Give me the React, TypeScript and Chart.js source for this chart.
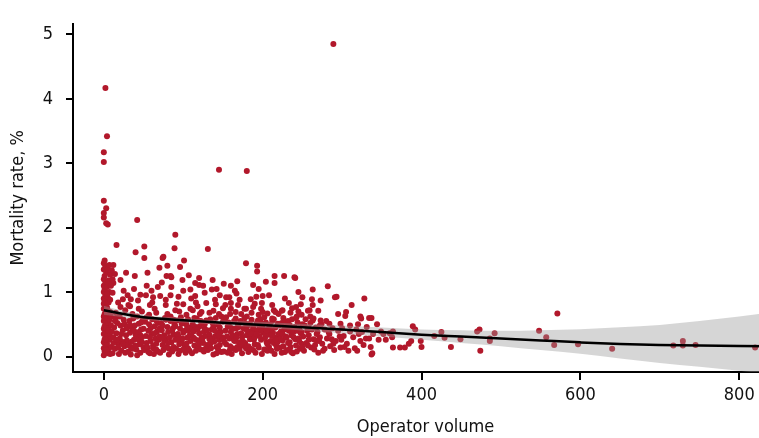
import React, { useEffect, useRef } from "react";
import { Chart, registerables } from "chart.js";

Chart.register(...registerables);

// Operator volume vs mortality rate (%)
const STRIPE_POINTS: [number, number][] = [
  [0,0.02],[1,0.08],[0,0.13],[2,0.18],[0,0.22],[1,0.27],[3,0.31],[0,0.35],[2,0.39],[0,0.43],[1,0.47],[3,0.51],[0,0.55],[2,0.58],[0,0.62],[1,0.66],[3,0.70],[0,0.74],[2,0.78],[0,0.82],[1,0.86],[0,0.90],[2,0.95],[0,1.00],[1,1.05],[0,1.10],[2,1.15],[0,1.20],[1,1.25],[3,1.30],[0,1.35],[2,1.40],[0,1.45],[1,1.49],
  [5,0.05],[6,0.12],[4,0.20],[7,0.26],[5,0.33],[8,0.38],[4,0.45],[6,0.52],[7,0.57],[5,0.63],[8,0.69],[4,0.76],[6,0.84],[5,0.92],[7,1.00],[4,1.08],[6,1.18],[8,1.27],[5,1.36],[7,1.42],[6,1.12],[4,0.97],[9,0.30],[9,0.48],[9,0.15],[3,0.10],[8,0.04],[2,0.26],[3,0.44],[7,0.36],[1,0.60],[5,0.72],[8,0.88],[6,0.41],[2,0.66],[9,0.62],
  [12,1.42],[14,1.28],[11,1.20],[10,1.34],[12,1.14],[9,1.10],[11,0.99],[16,1.73],
];

const OUTLIER_POINTS: [number, number][] = [
  [2,4.17],[4,3.42],[0,3.17],[0,3.02],[0,2.42],[3,2.30],[0,2.23],[0,2.16],[3,2.07],[5,2.05],
  [42,2.12],[145,2.90],[180,2.88],[289,4.85],
];

const CLOUD_POINTS: [number, number][] = [
  [11,0.05],[14,0.12],[18,0.20],[22,0.09],[26,0.16],[29,0.25],[12,0.30],[16,0.36],[20,0.28],[24,0.41],[28,0.33],[13,0.45],[17,0.52],[21,0.48],[25,0.57],[29,0.44],[15,0.60],[19,0.04],[23,0.23],[27,0.06],[10,0.39],[14,0.55],[18,0.14],[22,0.35],[26,0.50],[30,0.18],[12,0.21],[20,0.62],
  [31,0.08],[34,0.15],[38,0.26],[42,0.02],[45,0.19],[48,0.30],[33,0.37],[36,0.44],[40,0.34],[44,0.51],[47,0.42],[32,0.55],[37,0.59],[41,0.11],[46,0.06],[49,0.58],[35,0.23],[39,0.48],[43,0.27],[50,0.14],[30,0.46],[34,0.03],[38,0.40],[42,0.62],[46,0.33],[48,0.22],[36,0.12],[44,0.38],
  [51,0.10],[54,0.21],[58,0.05],[62,0.17],[65,0.28],[68,0.08],[53,0.32],[56,0.40],[60,0.35],[64,0.47],[67,0.39],[52,0.54],[57,0.50],[61,0.58],[66,0.56],[69,0.26],[55,0.14],[59,0.24],[63,0.04],[70,0.43],[50,0.43],[54,0.61],[58,0.30],[62,0.13],[66,0.20],[68,0.52],[56,0.07],[64,0.36],
  [71,0.06],[74,0.18],[78,0.27],[82,0.12],[85,0.22],[88,0.34],[73,0.41],[76,0.33],[80,0.46],[84,0.55],[87,0.44],[72,0.52],[77,0.60],[81,0.38],[86,0.08],[89,0.50],[75,0.10],[79,0.15],[83,0.30],[90,0.26],[70,0.31],[74,0.48],[78,0.57],[82,0.03],[86,0.40],[88,0.15],[76,0.24],[84,0.62],
  [91,0.12],[94,0.04],[98,0.22],[102,0.16],[105,0.29],[108,0.09],[93,0.35],[96,0.43],[100,0.37],[104,0.50],[107,0.41],[92,0.56],[97,0.61],[101,0.54],[106,0.58],[109,0.24],[95,0.19],[99,0.28],[103,0.06],[110,0.45],[90,0.47],[94,0.31],[98,0.51],[102,0.40],[106,0.13],[108,0.33],[96,0.09],[104,0.20],
  [111,0.05],[114,0.17],[118,0.25],[122,0.11],[125,0.21],[128,0.32],[113,0.39],[116,0.46],[120,0.36],[124,0.53],[127,0.43],[112,0.50],[117,0.59],[121,0.47],[126,0.08],[129,0.56],[115,0.27],[119,0.14],[123,0.30],[130,0.18],[110,0.33],[114,0.60],[118,0.42],[122,0.55],[126,0.38],[128,0.12],[116,0.09],[124,0.26],
  [131,0.10],[134,0.20],[138,0.03],[142,0.15],[145,0.26],[148,0.07],[133,0.34],[136,0.42],[140,0.31],[144,0.49],[147,0.38],[132,0.55],[137,0.52],[141,0.60],[146,0.45],[149,0.30],[135,0.13],[139,0.23],[143,0.36],[150,0.54],[130,0.41],[134,0.58],[138,0.47],[142,0.05],[146,0.18],[148,0.62],[136,0.28],[144,0.11],
  [151,0.08],[154,0.19],[158,0.28],[162,0.13],[165,0.24],[168,0.35],[153,0.40],[156,0.47],[160,0.38],[164,0.55],[167,0.44],[152,0.58],[157,0.53],[161,0.04],[166,0.10],[169,0.50],[155,0.31],[159,0.16],[163,0.43],[170,0.22],[150,0.27],[154,0.61],[158,0.09],[162,0.33],[166,0.59],[168,0.15],[156,0.06],[164,0.25],
  [171,0.12],[174,0.05],[178,0.21],[182,0.16],[185,0.30],[188,0.10],[173,0.36],[176,0.44],[180,0.33],[184,0.51],[187,0.40],[172,0.55],[177,0.60],[181,0.48],[186,0.57],[189,0.26],[175,0.24],[179,0.13],[183,0.39],[190,0.19],[170,0.46],[174,0.30],[178,0.52],[182,0.07],[186,0.35],[188,0.45],[176,0.17],[184,0.27],
  [191,0.06],[194,0.18],[198,0.26],[202,0.11],[205,0.22],[208,0.34],[193,0.41],[196,0.32],[200,0.45],[204,0.53],[207,0.43],[192,0.51],[197,0.58],[201,0.37],[206,0.09],[209,0.49],[195,0.14],[199,0.04],[203,0.29],[210,0.24],[190,0.30],[194,0.56],[198,0.40],[202,0.61],[206,0.19],[208,0.15],[196,0.47],[204,0.35],
  [211,0.09],[214,0.21],[218,0.30],[222,0.14],[225,0.25],[228,0.07],[213,0.37],[216,0.45],[220,0.35],[224,0.52],[227,0.42],[212,0.55],[217,0.17],[221,0.48],[226,0.60],[229,0.31],[215,0.04],[219,0.23],[223,0.39],[230,0.47],[210,0.42],[214,0.58],[218,0.12],[222,0.28],[226,0.16],[228,0.54],[216,0.27],[224,0.06],
  [231,0.10],[234,0.22],[238,0.05],[242,0.17],[245,0.28],[248,0.36],[233,0.40],[236,0.33],[240,0.46],[244,0.53],[247,0.12],[232,0.55],[237,0.58],[241,0.27],[246,0.44],[249,0.20],[235,0.15],[239,0.38],[243,0.08],[250,0.50],[230,0.29],[234,0.49],[238,0.42],[242,0.60],[246,0.24],[236,0.07],
  [252,0.09],[255,0.21],[258,0.33],[261,0.14],[264,0.27],[267,0.45],[270,0.06],[253,0.48],[256,0.40],[260,0.52],[266,0.18],[269,0.38],[272,0.30],[275,0.20],[278,0.42],[281,0.28],[276,0.09],[285,0.16],[288,0.44],[292,0.24],[295,0.40],[254,0.58],[263,0.56],[280,0.55],[290,0.10],[300,0.44],[306,0.20],[314,0.30],[318,0.42],[327,0.18],[331,0.46],
  [16,0.26],[24,0.19],[33,0.49],[40,0.17],[47,0.53],[59,0.44],[66,0.11],[73,0.29],[81,0.21],[88,0.57],[93,0.26],[100,0.11],[105,0.46],[113,0.29],[120,0.20],[127,0.50],[133,0.27],[140,0.40],[145,0.33],[152,0.22],[159,0.46],[167,0.30],[173,0.19],[180,0.41],[185,0.12],[192,0.35],[199,0.51],[205,0.41],[212,0.32],[219,0.51],[225,0.35],[232,0.21],[239,0.30],[244,0.40],[251,0.31],[257,0.17],[262,0.42],[268,0.25],[274,0.50],[283,0.38],[287,0.27],[297,0.31],[303,0.15],[310,0.48],[316,0.13],[325,0.38],[330,0.28],
];

const UPPER_POINTS: [number, number][] = [
  [40,1.62],[51,1.71],[51,1.53],[74,1.53],[39,1.25],[54,1.10],[68,1.08],[53,0.95],[25,1.02],[30,0.95],[24,0.89],[34,0.89],[43,0.87],[61,0.84],[71,0.94],[64,0.74],[44,0.74],[31,0.80],[21,0.77],
  [90,1.89],[89,1.68],[96,1.39],[101,1.49],[80,1.41],[85,1.23],[131,1.67],[137,1.19],[107,1.26],[99,1.19],[179,1.45],
  [84,1.25],[115,1.14],[120,1.11],[125,1.10],[151,1.13],[160,1.10],[85,1.08],[109,1.04],[136,1.04],[84,0.95],[94,0.93],[115,0.94],[127,0.99],[146,0.95],[154,0.92],
  [100,0.81],[116,0.84],[129,0.83],[141,0.81],[153,0.80],[78,0.80],[90,0.72],[109,0.74],[123,0.69],[138,0.71],[159,0.66],[75,1.55],[79,1.25],
  [193,1.41],[193,1.32],[168,1.17],[188,1.11],[204,1.16],[215,1.14],[227,1.25],[240,1.23],[167,0.98],[185,0.89],[192,0.93],[200,0.94],[208,0.95],[199,0.83],[169,0.80],[179,0.74],[188,0.77],[200,0.69],[214,0.72],[225,0.72],[233,0.83],[242,0.77],[160,0.83],[160,0.74],
  [241,1.22],[248,0.81],[262,0.89],[259,0.72],[270,0.71],[216,0.69],[224,0.71],[237,0.75],[198,0.74],[177,0.74],[180,0.62],[212,0.59],[243,0.62],
  [15,0.68],[27,0.72],[36,0.66],[48,0.70],[57,0.65],[66,0.68],[80,0.66],[95,0.70],[104,0.65],[112,0.72],[121,0.66],[133,0.68],[145,0.66],[150,0.75],[166,0.69],[173,0.66],[186,0.68],[195,0.65],[206,0.67],[220,0.66],[235,0.68],[245,0.70],
  [18,0.84],[33,0.78],[58,0.80],[62,0.92],[46,0.96],[78,0.88],[92,0.82],[110,0.90],[118,0.78],[140,0.88],[158,0.92],[171,0.88],[190,0.82],[212,0.80],[228,0.90],[250,0.92],
  [38,1.05],[60,1.02],[73,1.15],[100,1.02],[142,1.05],[165,1.02],[245,1.00],[195,1.05],[120,1.22],[21,1.19],[28,1.30],[55,1.30],[70,1.38],[215,1.25],
];

const TAIL_POINTS: [number, number][] = [
  [263,1.04],[282,1.09],[293,0.93],[328,0.90],[273,0.87],[312,0.80],[263,0.80],[257,0.71],[249,0.65],[295,0.66],[305,0.69],[304,0.63],[323,0.62],[334,0.60],[260,0.62],[264,0.59],[273,0.56],[284,0.51],[298,0.51],[320,0.50],[344,0.50],[258,0.44],[272,0.48],[249,0.38],[268,0.35],[284,0.35],[302,0.32],[310,0.39],[321,0.35],[339,0.35],[352,0.35],[360,0.36],
  [258,0.26],[271,0.24],[278,0.12],[289,0.20],[299,0.26],[323,0.24],[334,0.28],[346,0.26],[250,0.15],[265,0.11],[298,0.14],[308,0.09],[319,0.09],[336,0.15],[338,0.05],[355,0.26],[363,0.30],[291,0.92],[324,0.59],[337,0.60],
  [349,0.39],[364,0.39],[373,0.14],[379,0.14],[384,0.20],[389,0.47],[392,0.42],[399,0.24],[400,0.15],[387,0.24],[416,0.32],[425,0.38],[429,0.29],[437,0.15],[449,0.27],[470,0.39],[473,0.42],[474,0.09],[486,0.28],[492,0.36],[337,0.03],[364,0.14],
  [486,0.24],[548,0.40],[557,0.30],[567,0.18],[571,0.67],[597,0.19],[640,0.12],[717,0.17],[729,0.24],[729,0.17],[745,0.18],[820,0.14],
];

// Fitted curve and its confidence band
const FIT_X = [0, 25, 50, 100, 150, 200, 250, 300, 350, 400, 450, 500, 550, 600, 650, 700, 750, 800, 850];
const FIT_Y = [0.72, 0.66, 0.61, 0.565, 0.525, 0.49, 0.455, 0.42, 0.38, 0.34, 0.31, 0.28, 0.25, 0.22, 0.195, 0.18, 0.17, 0.163, 0.158];
const BAND_UPPER = [0.79, 0.71, 0.65, 0.60, 0.56, 0.535, 0.505, 0.48, 0.45, 0.42, 0.41, 0.40, 0.41, 0.425, 0.455, 0.49, 0.55, 0.62, 0.70];
const BAND_LOWER = [0.65, 0.61, 0.57, 0.53, 0.49, 0.445, 0.405, 0.36, 0.31, 0.26, 0.21, 0.16, 0.10, 0.045, -0.03, -0.10, -0.16, -0.22, -0.29];

const X_TICKS = [0, 200, 400, 600, 800];
const Y_TICKS = [0, 1, 2, 3, 4, 5];

const FONT_FAMILY = "'Liberation Sans Narrow', 'DejaVu Sans Condensed', 'Liberation Sans', sans-serif";

export default function App() {
  const canvasRef = useRef<HTMLCanvasElement | null>(null);

  useEffect(() => {
    const canvas = canvasRef.current;
    if (!canvas) return;
    const pts = [...STRIPE_POINTS, ...CLOUD_POINTS, ...UPPER_POINTS, ...TAIL_POINTS, ...OUTLIER_POINTS].map(
      ([x, y]) => ({ x, y })
    );
    const toXY = (ys: number[]) => FIT_X.map((x, i) => ({ x, y: ys[i] }));

    const chart = new Chart(canvas, {
      type: "scatter",
      data: {
        datasets: [
          {
            type: "line",
            data: toXY(FIT_Y),
            borderColor: "#000000",
            borderWidth: 2.5,
            pointRadius: 0,
            fill: false,
            cubicInterpolationMode: "monotone",
            order: 0,
          } as any,
          {
            type: "line",
            data: toXY(BAND_UPPER),
            borderWidth: 0,
            borderColor: "rgba(0,0,0,0)",
            backgroundColor: "rgba(153,153,153,0.4)",
            pointRadius: 0,
            fill: "+1",
            cubicInterpolationMode: "monotone",
            order: 1,
          } as any,
          {
            type: "line",
            data: toXY(BAND_LOWER),
            borderWidth: 0,
            borderColor: "rgba(0,0,0,0)",
            pointRadius: 0,
            fill: false,
            cubicInterpolationMode: "monotone",
            order: 2,
          } as any,
          {
            type: "scatter",
            data: pts,
            pointRadius: 3,
            pointBorderWidth: 0,
            pointBackgroundColor: "#B2182B",
            pointBorderColor: "#B2182B",
            order: 3,
          } as any,
        ],
      },
      options: {
        animation: false,
        responsive: false,
        devicePixelRatio: 1,
        events: [],
        layout: { padding: { top: 12, left: 0, right: 0, bottom: 0 } },
        plugins: { legend: { display: false }, tooltip: { enabled: false } },
        scales: {
          x: {
            type: "linear",
            min: -38.8,
            max: 848.8,
            afterFit: (scale: any) => {
              scale.height = 66;
            },
            afterBuildTicks: (scale: any) => {
              scale.ticks = X_TICKS.map((v) => ({ value: v }));
            },
            grid: {
              display: true,
              drawOnChartArea: false,
              drawTicks: true,
              tickLength: 8,
              color: "#000000",
              lineWidth: 2,
            },
            border: { display: true, color: "#000000", width: 2 },
            ticks: {
              color: "#111111",
              padding: 5,
              maxRotation: 0,
              font: { family: FONT_FAMILY, size: 18 },
            },
            title: {
              display: true,
              text: "Operator volume",
              color: "#111111",
              padding: { top: 0, bottom: 0 },
              font: { family: FONT_FAMILY, size: 18 },
            },
          },
          y: {
            type: "linear",
            min: -0.24,
            max: 5.165,
            afterFit: (scale: any) => {
              scale.width = 73;
            },
            afterBuildTicks: (scale: any) => {
              scale.ticks = Y_TICKS.map((v) => ({ value: v }));
            },
            grid: {
              display: true,
              drawOnChartArea: false,
              drawTicks: true,
              tickLength: 7,
              color: "#000000",
              lineWidth: 2,
            },
            border: { display: true, color: "#000000", width: 2 },
            ticks: {
              color: "#111111",
              padding: 13,
              font: { family: FONT_FAMILY, size: 18 },
            },
            title: {
              display: true,
              text: "Mortality rate, %",
              color: "#111111",
              padding: { top: 8, bottom: 0 },
              font: { family: FONT_FAMILY, size: 18 },
            },
          },
        },
      } as any,
    });
    return () => chart.destroy();
  }, []);

  return (
    <div
      style={{
        position: "fixed",
        left: 0,
        top: 0,
        width: 759,
        height: 438,
        overflow: "hidden",
        background: "#ffffff",
      }}
    >
      <canvas ref={canvasRef} width={782} height={438} style={{ display: "block", width: 782, height: 438 }} />
    </div>
  );
}
